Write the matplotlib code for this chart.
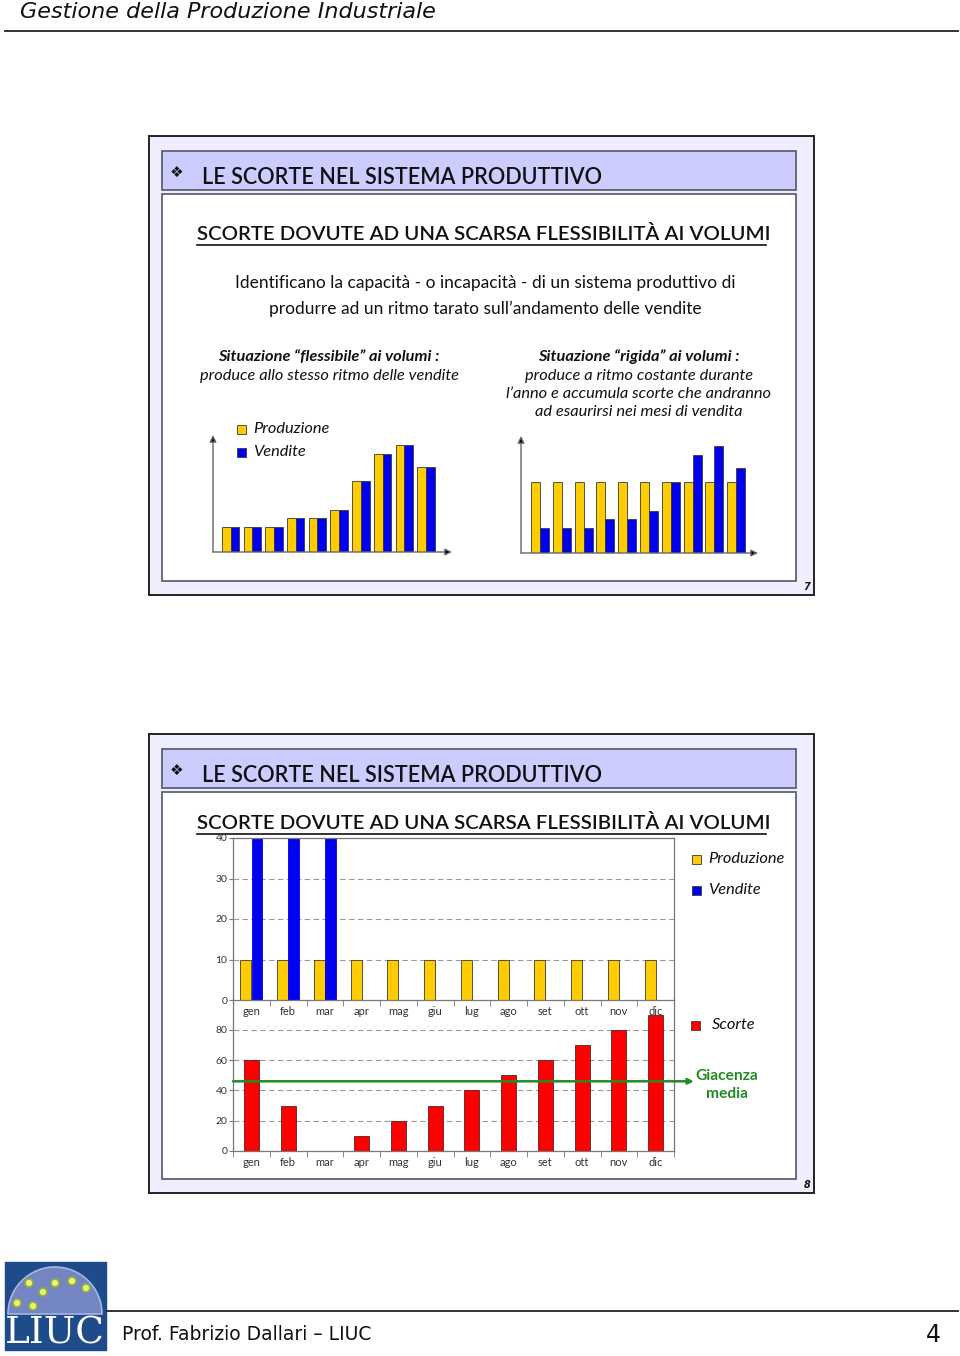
import matplotlib
matplotlib.use("Agg")
import matplotlib.pyplot as plt
from matplotlib.patches import Rectangle, Wedge, Circle
import numpy as np

# ---------------- data ----------------
mesi_10 = list(range(10))
vendite_s1 = [25, 25, 25, 34, 34, 42, 71, 98, 107, 85]
produzione_flessibile = [25, 25, 25, 34, 34, 42, 71, 98, 107, 85]
produzione_rigida = [71, 71, 71, 71, 71, 71, 71, 71, 71, 71]

mesi = ["gen", "feb", "mar", "apr", "mag", "giu", "lug", "ago", "set", "ott", "nov", "dic"]
produzione = [10, 10, 10, 10, 10, 10, 10, 10, 10, 10, 10, 10]
vendite = [40, 40, 40, 0, 0, 0, 0, 0, 0, 0, 0, 0]
scorte = [60, 30, 0, 10, 20, 30, 40, 50, 60, 70, 80, 90]
giacenza_media = 46
ticks_top = [0, 10, 20, 30, 40]
ticks_bottom = [0, 20, 40, 60, 80]

YELLOW = "#FFCC00"
BLUE = "#0000F0"
RED = "#FF0000"
GREEN = "#228B22"
EDGE = "#3a3a3a"
SLIDE_BG = "#EEEEFF"
BAND = "#CCCCFF"

W, H = 960, 1356
fig = plt.figure(figsize=(W / 100, H / 100), dpi=100)
fig.patch.set_facecolor("white")

page = fig.add_axes([0, 0, 1, 1])
page.set_xlim(0, W)
page.set_ylim(H, 0)
page.axis("off")

SANS = ["Lato", "DejaVu Sans"]
LAB = 11.8


def ax_at(x0, y0, x1, y1, z=2):
    a = fig.add_axes([x0 / W, 1 - y1 / H, (x1 - x0) / W, (y1 - y0) / H])
    a.set_zorder(z)
    a.patch.set_alpha(0)
    return a


# ---------------- page header / footer ----------------
page.text(20, 12, "Gestione della Produzione Industriale", fontsize=16, style="italic",
          family="DejaVu Sans", va="center", ha="left", color="#111111")
page.plot([5, 958], [31, 31], color="#222222", lw=1.3)

page.plot([107, 958], [1311, 1311], color="#222222", lw=1.3)
page.text(122, 1334, "Prof. Fabrizio Dallari \u2013 LIUC", fontsize=13.5, family="DejaVu Sans",
          va="center", ha="left", color="#111111")
page.text(933, 1335, "4", fontsize=17, family="DejaVu Sans", va="center", ha="center", color="#111111")

# logo
page.add_patch(Rectangle((5, 1262), 101, 88, facecolor="#1E4B8A", edgecolor="#1E4B8A", zorder=1))
page.add_patch(Wedge((55, 1314), 47, 180, 360, facecolor="#7385C2", edgecolor="#AAB6E0", lw=1.2, zorder=2))
for (cx, cy) in [(29, 1283), (55, 1283), (72, 1281), (86, 1288), (43, 1292), (17, 1303), (33, 1306)]:
    page.add_patch(Circle((cx, cy), 4, facecolor="#F0F070", edgecolor="#8AB040", lw=1.2, zorder=3))
page.text(55, 1334, "LIUC", fontsize=27, family="DejaVu Serif", color="white",
          ha="center", va="center", zorder=4)


# ---------------- slides ----------------
def slide(top, num, title_dy):
    page.add_patch(Rectangle((149, top), 665, 459, facecolor=SLIDE_BG, edgecolor="#222222", lw=1.4, zorder=1))
    page.add_patch(Rectangle((162, top + 15), 634, 39, facecolor=BAND, edgecolor="#555566", lw=1.2, zorder=2))
    page.add_patch(Rectangle((162, top + 58), 634, 387, facecolor="white", edgecolor="#555566", lw=1.2, zorder=2))
    page.text(177, top + 36, "\u2756", fontsize=11, family=["DejaVu Sans"], ha="center", va="center",
              color="#111111", zorder=3)
    page.text(202, top + 41, "LE SCORTE NEL SISTEMA PRODUTTIVO", fontsize=15.6, family=SANS,
              weight="semibold", ha="left", va="center", color="#111111", zorder=3)
    page.text(197, top + title_dy, "SCORTE DOVUTE AD UNA SCARSA FLESSIBILIT\u00c0 AI VOLUMI", fontsize=14.7,
              family=SANS, weight="semibold", ha="left", va="center", color="#111111", zorder=3)
    page.plot([197, 766], [top + title_dy + 11, top + title_dy + 11], color="#111111", lw=1.2, zorder=3)
    page.text(807, top + 451, str(num), fontsize=7, style="italic", weight="bold", family="DejaVu Sans",
              ha="center", va="center", color="#111111", zorder=3)


slide(136, 7, 98)
slide(734, 8, 89)

# slide 1 text
page.text(485, 283, "Identificano la capacit\u00e0 - o incapacit\u00e0 - di un sistema produttivo di",
          fontsize=12.5, family=SANS, ha="center", va="center", color="#111111", zorder=3)
page.text(485, 309, "produrre ad un ritmo tarato sull\u2019andamento delle vendite",
          fontsize=12.5, family=SANS, ha="center", va="center", color="#111111", zorder=3)

page.text(329, 357, "Situazione \u201cflessibile\u201d ai volumi :", fontsize=LAB, family=SANS,
          style="italic", weight="bold", ha="center", va="center", color="#111111", zorder=3)
page.text(330, 376, "produce allo stesso ritmo delle vendite", fontsize=LAB, family=SANS,
          style="italic", ha="center", va="center", color="#111111", zorder=3)
page.text(639, 357, "Situazione \u201crigida\u201d ai volumi :", fontsize=LAB, family=SANS,
          style="italic", weight="bold", ha="center", va="center", color="#111111", zorder=3)
for i, line in enumerate(["produce a ritmo costante durante",
                          "l\u2019anno e accumula scorte che andranno",
                          "ad esaurirsi nei mesi di vendita"]):
    page.text(639, 376 + 18 * i, line, fontsize=LAB, family=SANS, style="italic",
              ha="center", va="center", color="#111111", zorder=3)

# slide 1 legend
for y, c, lab in [(429, YELLOW, "Produzione"), (452, BLUE, "Vendite")]:
    page.add_patch(Rectangle((237, y - 4.5), 9, 9, facecolor=c, edgecolor=EDGE, lw=0.6, zorder=3))
    page.text(253, y, lab, fontsize=LAB, family=SANS, style="italic", ha="left", va="center",
              color="#111111", zorder=3)


def arrow_axes(a):
    for s in a.spines.values():
        s.set_visible(False)
    a.set_xticks([])
    a.set_yticks([])
    for xy in [(0, 1.0), (1.0, 0)]:
        a.annotate("", xy=xy, xytext=(0, 0), xycoords="axes fraction",
                   arrowprops=dict(arrowstyle="-|>", color="#666666", fc="black", lw=1.0,
                                   mutation_scale=10, shrinkA=0, shrinkB=0),
                   annotation_clip=False)


# flexible chart
x = np.array(mesi_10)
a1 = ax_at(213, 435, 452, 552)
a1.bar(x - 0.2, produzione_flessibile, width=0.4, color=YELLOW, edgecolor=EDGE, lw=0.6)
a1.bar(x + 0.2, vendite_s1, width=0.4, color=BLUE, edgecolor=EDGE, lw=0.6)
a1.set_xlim(-0.81, 10.2)
a1.set_ylim(0, 117)
arrow_axes(a1)

# rigid chart
a2 = ax_at(521, 436, 758, 553)
a2.bar(x - 0.205, produzione_rigida, width=0.41, color=YELLOW, edgecolor=EDGE, lw=0.6)
a2.bar(x + 0.205, vendite_s1, width=0.41, color=BLUE, edgecolor=EDGE, lw=0.6)
a2.set_xlim(-0.87, 10.0)
a2.set_ylim(0, 117)
arrow_axes(a2)


# ---------------- slide 2 charts ----------------
def style_axes(a, yt):
    for s in a.spines.values():
        s.set_color("#777777")
        s.set_linewidth(0.9)
    a.set_xlim(-0.5, 11.5)
    a.set_yticks(yt)
    a.set_xticks(range(12))
    a.set_xticklabels(mesi)
    a.set_xticks(np.arange(-0.5, 12, 1), minor=True)
    a.tick_params(axis="x", which="major", length=0, labelsize=8, labelcolor="#333333", pad=4)
    a.tick_params(axis="x", which="minor", length=4, color="#777777", direction="out")
    a.tick_params(axis="y", length=3, color="#777777", labelsize=7.5, labelcolor="#333333", pad=1)
    for lab in a.get_xticklabels() + a.get_yticklabels():
        lab.set_family(SANS)
    for v in yt[1:]:
        a.axhline(v, color="#9a9a9a", lw=0.8, ls=(0, (5, 3)), zorder=0)


xm = np.arange(12)
top = ax_at(233, 838, 674, 1000, z=2)
top.bar(xm - 0.15, produzione, width=0.3, color=YELLOW, edgecolor=EDGE, lw=0.6, zorder=2)
top.bar(xm + 0.15, vendite, width=0.29, color=BLUE, edgecolor=BLUE, lw=0.6, zorder=2)
top.set_ylim(0, 40)
style_axes(top, ticks_top)

bot = ax_at(233, 999.5, 674, 1151, z=3)
bot.bar(xm, scorte, width=0.41, color=RED, edgecolor="#552222", lw=0.6, zorder=2)
bot.set_ylim(0, 100)
style_axes(bot, ticks_bottom)
bot.spines["top"].set_visible(False)
bot.annotate("", xy=(1.045, giacenza_media), xytext=(0, giacenza_media),
             xycoords=("axes fraction", "data"), textcoords=("axes fraction", "data"),
             arrowprops=dict(arrowstyle="-|>", color=GREEN, lw=1.8, mutation_scale=8,
                             shrinkA=0, shrinkB=0), annotation_clip=False, zorder=5)

# slide 2 legends
for y, c, lab in [(859, YELLOW, "Produzione"), (890, BLUE, "Vendite")]:
    page.add_patch(Rectangle((692, y - 4.5), 9, 9, facecolor=c, edgecolor=EDGE, lw=0.6, zorder=3))
    page.text(708, y, lab, fontsize=LAB, family=SANS, style="italic", ha="left", va="center",
              color="#111111", zorder=3)
page.add_patch(Rectangle((691, 1020.5), 9, 9, facecolor=RED, edgecolor=EDGE, lw=0.6, zorder=3))
page.text(712, 1025, "Scorte", fontsize=LAB, family=SANS, style="italic", ha="left", va="center",
          color="#111111", zorder=3)
page.text(727, 1076, "Giacenza", fontsize=11.2, family=SANS, weight="bold", ha="center", va="center",
          color=GREEN, zorder=3)
page.text(727, 1094, "media", fontsize=11.2, family=SANS, weight="bold", ha="center", va="center",
          color=GREEN, zorder=3)

fig.savefig("out.png", dpi=100, facecolor="white")
